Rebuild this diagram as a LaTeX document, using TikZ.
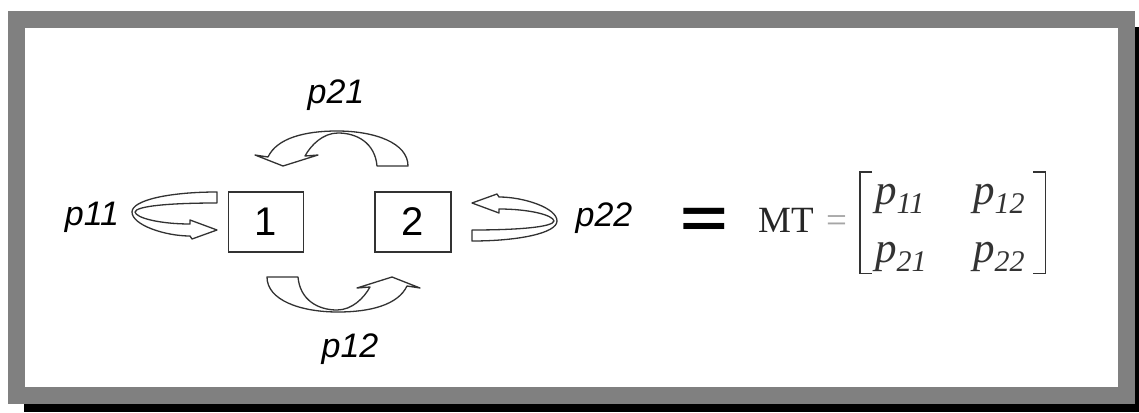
\documentclass[tikz,border=0pt]{standalone}
\usepackage{fontspec}
\setmainfont{Liberation Sans}
\newfontfamily\serfont{Liberation Serif}
\usetikzlibrary{positioning,matrix}

\definecolor{framegray}{RGB}{128,128,128}
\definecolor{inkgray}{RGB}{50,50,50}

\tikzset{
  statebox/.style={draw=inkgray, line width=1.4pt, minimum width=75pt, minimum height=60pt, inner sep=0pt, font=\fontsize{40}{40}\selectfont},
  problbl/.style={font=\fontsize{34}{34}\selectfont\itshape, inner sep=0pt},
  bentarrow/.style={draw=inkgray, line width=1.3pt, fill=white, line join=round},
  brk/.style={draw=black!80, line width=1.6pt},
}

% hollow self-loop arrow (left of box 1)
\newcommand{\loopshape}[1][]{%
  \draw[bentarrow,#1] (217,192) .. controls (170,192) and (132,200) .. (132,212)
    .. controls (132,225) and (165,236) .. (190,236) -- (192,239) -- (217,230)
    -- (190,220) -- (190,224) .. controls (160,224) and (136,218) .. (135,212)
    .. controls (136,206) and (170,203) .. (217,203) -- cycle;}
% hollow bent arrow (below the boxes)
\newcommand{\archshape}[1][]{%
  \draw[bentarrow,#1] (267,277) -- (298,277) .. controls (300,300) and (318,310) .. (337,310)
    .. controls (352,310) and (364,298) .. (370,287) -- (357,288) -- (392,277)
    -- (420,288) -- (407,286) .. controls (398,305) and (370,312) .. (338,312)
    .. controls (300,312) and (267,300) .. (267,277) -- cycle;}
\newcommand{\pent}[1]{p\raisebox{-9pt}{\fontsize{30}{30}\selectfont #1}}

\begin{document}
\begin{tikzpicture}[x=1pt,y=-1pt]
  \useasboundingbox (0,0) rectangle (1139,412);
  % frame with shadow
  \fill[black] (24,27) rectangle (1139,412);
  \fill[framegray] (8,11) rectangle (1135,404);
  \fill[white] (25,28) rectangle (1118,387);

  % states
  \node[statebox] (s1) at (266,222) {1};
  \node[statebox, right=70pt of s1, minimum width=76pt] (s2) {2};

  % transition arrows
  \loopshape
  \loopshape[rotate around={180:(344.5,216.5)}]
  \archshape
  \archshape[rotate around={180:(337.5,221.5)}]

  \node[problbl, anchor=base] (l21) at (336,103) {p21};
  \node[problbl, anchor=base] (l12) at (350,357) {p12};
  \node[problbl, anchor=base] (l11) at (92,225) {p11};
  \node[problbl, anchor=base] (l22) at (604,226) {p22};

  % equals and matrix
  \node[anchor=base, inner sep=0pt, font=\fontsize{72}{72}\selectfont\bfseries] (eqbig) at (704,237) {\scalebox{1.13}[0.78]{=}};
  \node[anchor=base west, inner sep=0pt, font=\serfont\fontsize{37}{37}\selectfont, text=black!85] (mt) at (758,232) {MT};
  \node[anchor=base west, inner sep=0pt, font=\serfont\fontsize{37}{37}\selectfont, text=black!35] (eqs) at (826,232) {=};
  \matrix (mat) [matrix of nodes, anchor=north west, inner sep=0pt,
    nodes={inner sep=0pt, text height=19pt, text depth=9pt, text width=52pt, align=left,
      font=\serfont\itshape\fontsize{43}{43}\selectfont, text=black!80},
    column sep=46pt, row sep=30pt] at (875,185) {
    \pent{11} & \pent{12} \\
    \pent{21} & \pent{22} \\
  };
  \draw[brk] ([xshift=-3pt,yshift=13pt]mat.north west) -- ([xshift=-15pt,yshift=13pt]mat.north west)
    -- ([xshift=-15pt,yshift=-2pt]mat.south west) -- ([xshift=-3pt,yshift=-2pt]mat.south west);
  \draw[brk] ([xshift=8pt,yshift=13pt]mat.north east) -- ([xshift=20pt,yshift=13pt]mat.north east)
    -- ([xshift=20pt,yshift=-2pt]mat.south east) -- ([xshift=8pt,yshift=-2pt]mat.south east);
\end{tikzpicture}
\end{document}
